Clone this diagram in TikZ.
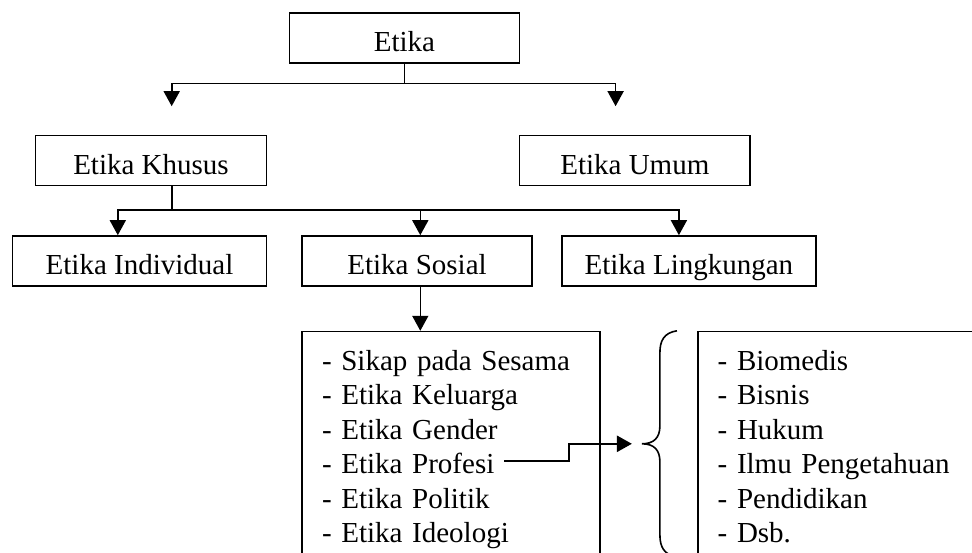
\documentclass[tikz,border=0pt]{standalone}
\usepackage{fontspec}
\setmainfont{Liberation Serif}
\usepackage{tikz}
\usetikzlibrary{arrows.meta,calc,positioning}

\begin{document}
\begin{tikzpicture}[
    on grid,
    x = 1pt, y = 1pt,
    font = \fontsize{29}{34.5}\selectfont
  ]

  \useasboundingbox (0,0) rectangle (972,-553);
  \clip (0,0) rectangle (972,-553);

  \tikzstyle {box} = [draw, line width = 1.6pt, minimum height = 50pt, inner sep = 0, text height = 30pt, text depth = 3pt]
  \tikzstyle {lst} = [draw, line width = 1.6pt, anchor = north west, align = left, text width = 258pt, inner xsep = 20pt, inner ysep = 18.5pt]
  \tikzstyle {arr} = [line width = 1.6pt, -{Triangle[length=15pt, width=16pt]}]

  \node [box, minimum width = 230pt] (etika) at (404.5,-38) {Etika};
  \node [box, minimum width = 231pt, below left = 122.7pt and 253.5pt of etika] (khusus) {Etika Khusus};
  \node [box, minimum width = 230.5pt, below right = 122.7pt and 230.3pt of etika] (umum) {Etika Umum};
  \node [box, minimum width = 254pt, below left = 100.3pt and 11.5pt of khusus] (individual) {Etika Individual};
  \node [box, minimum width = 230pt, right = 277.5pt of individual] (sosial) {Etika Sosial};
  \node [box, minimum width = 254pt, right = 271.9pt of sosial] (lingkungan) {Etika Lingkungan};

  \node [lst] (sosiallist) at ([yshift=-44pt]sosial.south west)
    {- Sikap pada Sesama\\- Etika Keluarga\\- Etika Gender\\- Etika Profesi\\- Etika Politik\\- Etika Ideologi};
  \node [lst] (profesilist) at ([xshift=395.7pt]sosiallist.north west)
    {- Biomedis\\- Bisnis\\- Hukum\\- Ilmu Pengetahuan\\- Pendidikan\\- Dsb.};

  \coordinate (khin) at ([xshift=20.7pt, yshift=28.7pt]khusus.north);
  \coordinate (umin) at ([xshift=-19.2pt, yshift=28.7pt]umum.north);
  \coordinate (khout) at ([xshift=20.7pt]khusus.south);
  \coordinate (profesi) at ([xshift=203pt, yshift=-130pt]sosiallist.north west);
  \coordinate (bracetip) at ([xshift=-65pt, yshift=-113pt]profesilist.north west);

  \draw [arr] (etika.south) -- ++(0,-19.7) -| (khin);
  \draw [arr] (etika.south) -- ++(0,-19.7) -| (umin);

  \draw [arr] (khout) -- ++(0,-23.3) -| ([xshift=-21.7pt]individual.north);
  \draw [arr] (khout) -- ++(0,-23.3) -| ([xshift=3.3pt]sosial.north);
  \draw [arr] (khout) -- ++(0,-23.3) -| ([xshift=-10pt]lingkungan.north);

  \draw [arr] ([xshift=3.3pt]sosial.south) -- ([xshift=3.3pt]sosial.south |- sosiallist.north);
  \draw [arr, line width = 2.5pt] (profesi) -- ++(65,0) |- (bracetip);

  % kurung kurawal
  \draw [line width = 1.6pt] ([xshift=-20pt]profesilist.north west)
    .. controls +(-13,-2) and +(0,12) .. ++(-17,-22) -- ++(0,-73)
    .. controls +(0,-12) and +(12,0) .. ++(-18,-18)
    .. controls +(12,0) and +(0,12) .. ++(18,-18) -- ++(0,-73)
    .. controls +(0,-12) and +(-13,2) .. ++(17,-22);
\end{tikzpicture}
\end{document}
